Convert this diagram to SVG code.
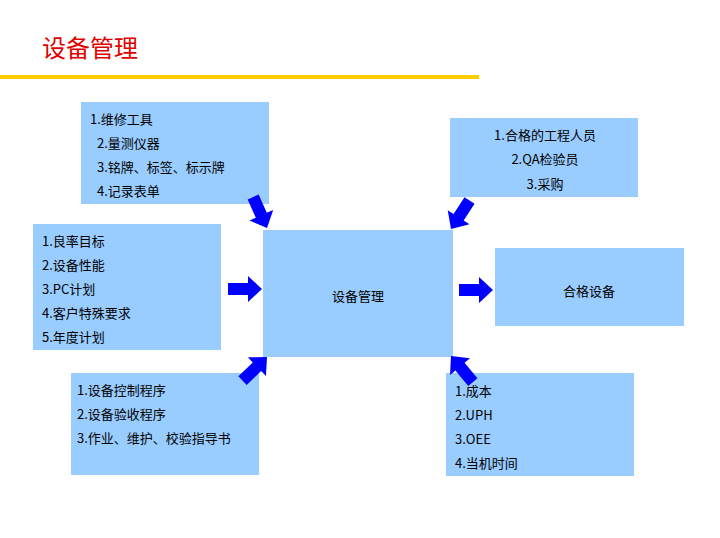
<svg xmlns="http://www.w3.org/2000/svg" width="720" height="538" viewBox="0 0 720 538">
<style>
.b{fill:#99CCFF}
text{font-family:"Noto Sans CJK SC","Liberation Sans",sans-serif;font-size:13px;fill:#000}
.a{fill:#0000FF}
</style>
<defs><path id="ar" d="M-34,-6 L-14,-6 L-14,-13 L0,0 L-14,13 L-14,6 L-34,6Z"/></defs>
<rect width="720" height="538" fill="#fff"/>
<text x="42" y="57" style="font-size:24px;fill:#E00000">设备管理</text>
<rect x="0" y="75" width="479" height="4" fill="#FFCC00"/>
<g id="n1"><rect class="b" x="81" y="102" width="188" height="102"/>
<text x="90" y="124">1.维修工具</text><text x="97" y="148">2.量测仪器</text><text x="97" y="172">3.铭牌、标签、标示牌</text><text x="97" y="196">4.记录表单</text></g>
<g id="n2"><rect class="b" x="450" y="118" width="188" height="79"/>
<text x="545" y="140" text-anchor="middle">1.合格的工程人员</text><text x="545" y="164" text-anchor="middle">2.QA检验员</text><text x="545" y="189" text-anchor="middle">3.采购</text></g>
<g id="n3"><rect class="b" x="33" y="224" width="188" height="126"/>
<text x="42" y="246">1.良率目标</text><text x="42" y="270">2.设备性能</text><text x="42" y="294">3.PC计划</text><text x="42" y="318">4.客户特殊要求</text><text x="42" y="342">5.年度计划</text></g>
<g id="n4"><rect class="b" x="263" y="230" width="190" height="127"/>
<text x="358" y="301" text-anchor="middle">设备管理</text></g>
<g id="n5"><rect class="b" x="495" y="248" width="189" height="78"/>
<text x="589" y="296" text-anchor="middle">合格设备</text></g>
<g id="n6"><rect class="b" x="71" y="373" width="188" height="102"/>
<text x="77" y="395">1.设备控制程序</text><text x="77" y="419">2.设备验收程序</text><text x="77" y="443">3.作业、维护、校验指导书</text></g>
<g id="n7"><rect class="b" x="446" y="373" width="188" height="103"/>
<text x="455" y="396">1.成本</text><text x="455" y="420">2.UPH</text><text x="455" y="444">3.OEE</text><text x="455" y="468">4.当机时间</text></g>
<g id="connectors" class="a">
<use href="#ar" transform="translate(262,289)"/>
<use href="#ar" transform="translate(493,290)"/>
<use href="#ar" transform="translate(267,228) rotate(66)"/>
<use href="#ar" transform="translate(451,229) rotate(123)"/>
<use href="#ar" transform="translate(267,357) rotate(-44)"/>
<use href="#ar" transform="translate(451,356) rotate(-130)"/>
</g>
</svg>
